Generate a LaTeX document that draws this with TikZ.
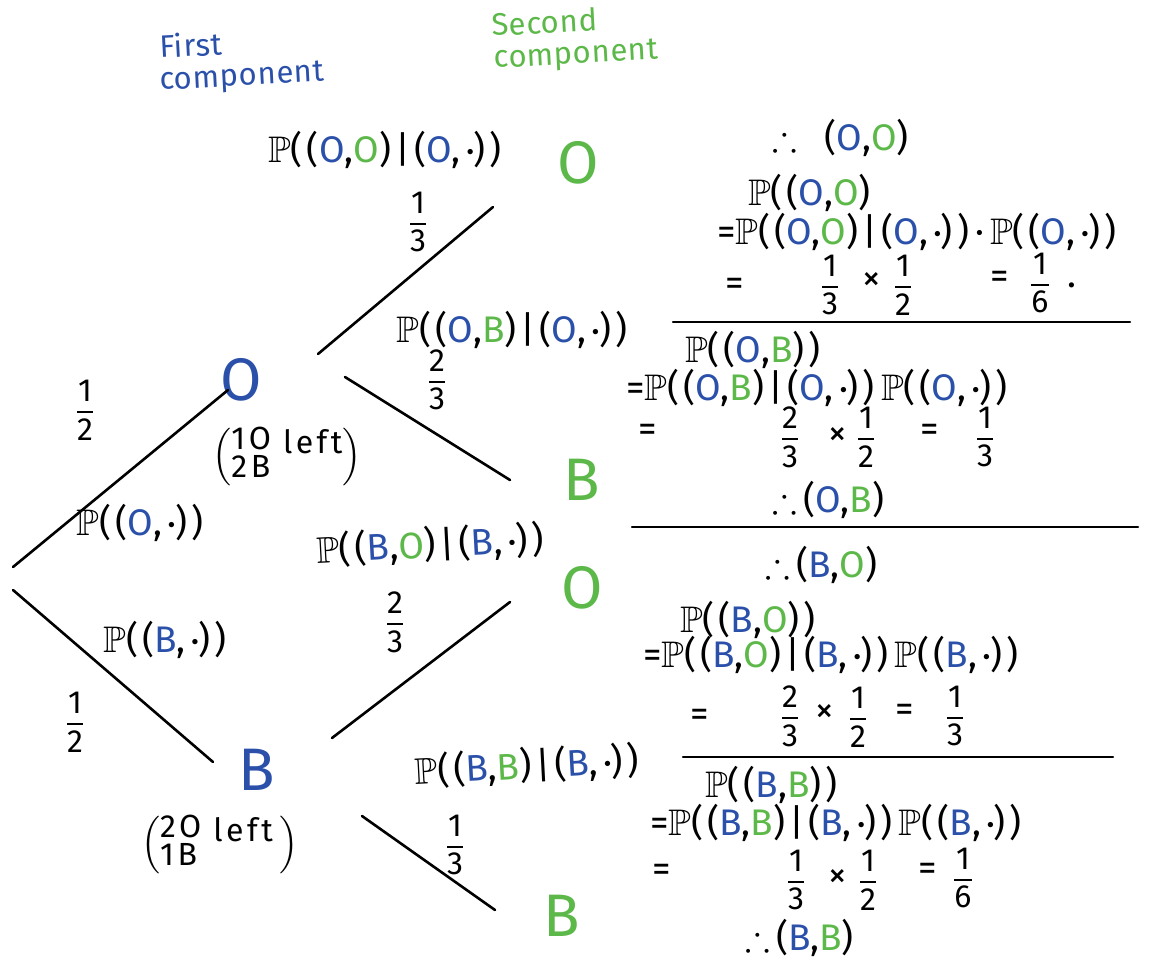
\documentclass[tikz,border=0pt]{standalone}
\usepackage{amsmath,amssymb}
\usepackage{fontspec}
\setmainfont{Fira Sans}[LetterSpace=11]
\newfontfamily\hdrfont{Fira Sans}[LetterSpace=2]
\definecolor{cblue}{RGB}{42,80,170}
\definecolor{cgreen}{RGB}{92,184,72}
\newcommand{\bO}{\textcolor{cblue}{O}}
\newcommand{\bB}{\textcolor{cblue}{B}}
\newcommand{\gO}{\textcolor{cgreen}{O}}
\newcommand{\gB}{\textcolor{cgreen}{B}}
\newcommand{\PP}{$\mathbb{P}$}
\newcommand{\fr}[2]{$\genfrac{}{}{1.8pt}{0}{\text{#1}}{\text{#2}}$}
\newcommand{\mdt}{\,\raisebox{0.18em}{\scalebox{0.55}{$\bullet$}}}
\tikzset{
  lbl/.style={font=\fontsize{37}{40}\selectfont, inner sep=0pt},
  frc/.style={font=\fontsize{32}{36}\selectfont, inner sep=0pt},
  eq/.style={font=\fontsize{37}{40}\selectfont, inner sep=0pt, anchor=west},
  big/.style={font=\fontsize{60}{64}\selectfont, inner sep=0pt, text depth=0pt},
  hdr/.style={font=\hdrfont\fontsize{31}{27}\selectfont, inner sep=0pt, anchor=base west, rotate=3},
  edge/.style={line width=2.6pt, line cap=round},
  rulel/.style={line width=2.4pt, line cap=round}
}
\begin{document}
\begin{tikzpicture}[x=1pt,y=-1pt]
\useasboundingbox (0,0) rectangle (1157,962);
% headers
\node[hdr, text=cblue] (h1a) at (160,58) {First};
\node[hdr, text=cblue] (h1b) at (160,90) {component};
\node[hdr, text=cgreen] (h2a) at (492,36) {Second};
\node[hdr, text=cgreen] (h2b) at (494,68) {component};
% tree nodes
\node[big, text=cblue] (o1) at (241,379) {O};
\node[big, text=cblue] (b1) at (257,770) {B};
\node[big, text=cgreen] (oo) at (578,162) {O};
\node[big, text=cgreen] (ob) at (582,480) {B};
\node[big, text=cgreen] (bo) at (582,587) {O};
\node[big, text=cgreen] (bb) at (562,916) {B};
% edge end points
\coordinate (r1) at (13,567);
\coordinate (r2) at (13,590);
\coordinate (o1a) at (228,390);
\coordinate (b1a) at (213,762);
\coordinate (o1b) at (318,354);
\coordinate (ooa) at (493,207);
\coordinate (o1c) at (345,377);
\coordinate (oba) at (510,480);
\coordinate (b1b) at (332,738);
\coordinate (boa) at (510,602);
\coordinate (b1c) at (362,816);
\coordinate (bba) at (495,910);
\draw[edge] (r1) -- (o1a);
\draw[edge] (r2) -- (b1a);
\draw[edge] (o1b) -- (ooa);
\draw[edge] (o1c) -- (oba);
\draw[edge] (b1b) -- (boa);
\draw[edge] (b1c) -- (bba);
% tree labels
\node[frc] (l1) at (85,410) {\fr{1}{2}};
\node[frc] (l2) at (75,722) {\fr{1}{2}};
\node[lbl] (l3) at (140,523) {\PP((\bO,\mdt))};
\node[lbl] (l4) at (165,640) {\PP((\bB,\mdt))};
\node[lbl, font=\fontsize{32}{34}\selectfont] (l5) at (287,457) {$\left(\begin{array}{@{}l@{}}\text{1O}\\[-6pt]\text{2B}\end{array}\raisebox{0.3em}{\text{ left}}\right)$};
\node[lbl, font=\fontsize{32}{34}\selectfont] (l6) at (220,845) {$\left(\begin{array}{@{}l@{}}\text{2O}\\[-6pt]\text{1B}\end{array}\raisebox{0.3em}{\text{ left}}\;\right)$};
\node[lbl] (l7) at (385,150) {\PP((\bO,\gO)|(\bO,\mdt))};
\node[frc] (l8) at (418,222) {\fr{1}{3}};
\node[lbl] (l9) at (512,330) {\PP((\bO,\gB)|(\bO,\mdt))};
\node[frc] (l10) at (437,380) {\fr{2}{3}};
\node[lbl, rotate=3] (l11) at (430,545) {\PP((\bB,\gO)|(\bB,\mdt))};
\node[frc] (l12) at (395,622) {\fr{2}{3}};
\node[lbl, rotate=3] (l13) at (527,766) {\PP((\bB,\gB)|(\bB,\mdt))};
\node[frc] (l14) at (455,845) {\fr{1}{3}};
% right side: (O,O)
\node[eq] (a1) at (772,138) {$\therefore$\ \ (\bO,\gO)};
\node[eq] (a2) at (748,193) {\PP((\bO,\gO)};
\node[eq] (a3) at (717,232) {=\PP((\bO,\gO)|(\bO,\mdt))\,·\,\PP((\bO,\mdt))};
\node[lbl] (a4) at (735,287) {=};
\node[frc] (a5) at (830,285) {\fr{1}{3}};
\node[lbl] (a6) at (872,282) {×};
\node[frc] (a7) at (903,285) {\fr{1}{2}};
\node[lbl] (a8) at (1000,280) {=};
\node[frc] (a10) at (1040,283) {\fr{1}{6}};
\node[lbl] (a9) at (1072,285) {.};
\coordinate (s1a) at (673,322);
\coordinate (s1b) at (1130,322);
\draw[rulel] (s1a) -- (s1b);
% (O,B)
\node[eq] (c1) at (685,350) {\PP((\bO,\gB))};
\node[eq] (c2) at (626,388) {=\PP((\bO,\gB)|(\bO,\mdt))\,\PP((\bO,\mdt))};
\node[lbl] (c3) at (648,433) {=};
\node[frc] (c4) at (790,437) {\fr{2}{3}};
\node[lbl] (c5) at (838,437) {×};
\node[frc] (c6) at (866,437) {\fr{1}{2}};
\node[lbl] (c7) at (930,433) {=};
\node[frc] (c8) at (985,437) {\fr{1}{3}};
\node[eq] (c9) at (772,500) {$\therefore$\,(\bO,\gB)};
\coordinate (s2a) at (632,527);
\coordinate (s2b) at (1138,527);
\draw[rulel] (s2a) -- (s2b);
% (B,O)
\node[eq] (d1) at (765,565) {$\therefore$\,(\bB,\gO)};
\node[eq] (d2) at (680,620) {\PP((\bB,\gO))};
\node[eq] (d3) at (643,655) {=\PP((\bB,\gO)|(\bB,\mdt))\,\PP((\bB,\mdt))};
\node[lbl] (d4) at (700,718) {=};
\node[frc] (d5) at (790,716) {\fr{2}{3}};
\node[lbl] (d6) at (825,713) {×};
\node[frc] (d7) at (858,717) {\fr{1}{2}};
\node[lbl] (d8) at (905,713) {=};
\node[frc] (d9) at (955,716) {\fr{1}{3}};
\coordinate (s3a) at (683,757);
\coordinate (s3b) at (1113,757);
\draw[rulel] (s3a) -- (s3b);
% (B,B)
\node[eq] (e1) at (705,785) {\PP((\bB,\gB))};
\node[eq] (e2) at (650,823) {=\PP((\bB,\gB)|(\bB,\mdt))\,\PP((\bB,\mdt))};
\node[lbl] (e3) at (662,873) {=};
\node[frc] (e4) at (796,880) {\fr{1}{3}};
\node[lbl] (e5) at (838,878) {×};
\node[frc] (e6) at (868,880) {\fr{1}{2}};
\node[lbl] (e7) at (928,872) {=};
\node[frc] (e9) at (963,878) {\fr{1}{6}};
\node[eq] (e8) at (745,938) {$\therefore$\,(\bB,\gB)};
\end{tikzpicture}
\end{document}
